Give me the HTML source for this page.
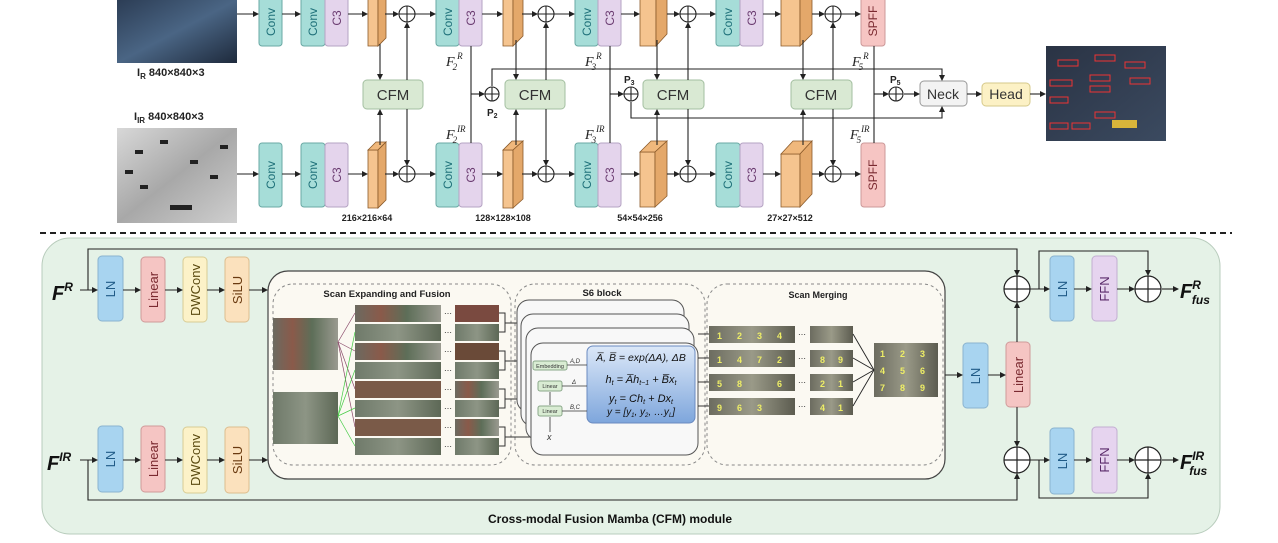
<!DOCTYPE html>
<html><head><meta charset="utf-8"><style>
html,body{margin:0;padding:0;background:#fff}
svg{display:block}
text{font-family:"Liberation Sans",sans-serif}
.m{font-family:"Liberation Serif",serif;font-style:italic}
</style></head><body>
<svg width="1278" height="543" viewBox="0 0 1278 543" xmlns="http://www.w3.org/2000/svg">
<defs>
<marker id="a" markerWidth="6" markerHeight="6" refX="5" refY="3" orient="auto" markerUnits="userSpaceOnUse"><path d="M0,0 L6,3 L0,6z" fill="#222"/></marker>
<linearGradient id="rgb" x1="0" y1="0" x2="1" y2="1"><stop offset="0" stop-color="#2c3d55"/><stop offset=".5" stop-color="#4a6584"/><stop offset="1" stop-color="#1e2a3c"/></linearGradient>
<linearGradient id="ir" x1="0" y1="0" x2="1" y2="1"><stop offset="0" stop-color="#d8d8d8"/><stop offset=".5" stop-color="#a8a8a8"/><stop offset="1" stop-color="#cfcfcf"/></linearGradient>
<linearGradient id="out" x1="0" y1="0" x2="1" y2="1"><stop offset="0" stop-color="#2a3344"/><stop offset="1" stop-color="#3b4a60"/></linearGradient>
<linearGradient id="blu" x1="0" y1="0" x2="0" y2="1"><stop offset="0" stop-color="#dce8f8"/><stop offset="1" stop-color="#7ea6dc"/></linearGradient>
<linearGradient id="ph1" x1="0" y1="0" x2="1" y2="0"><stop offset="0" stop-color="#6b6a60"/><stop offset=".3" stop-color="#8a5a4a"/><stop offset=".6" stop-color="#5d6e58"/><stop offset="1" stop-color="#9a9a90"/></linearGradient>
<linearGradient id="ph2" x1="0" y1="0" x2="1" y2="0"><stop offset="0" stop-color="#6f7a6a"/><stop offset=".5" stop-color="#8d9585"/><stop offset="1" stop-color="#5d6856"/></linearGradient>
<linearGradient id="gr" x1="0" y1="0" x2="1" y2="0"><stop offset="0" stop-color="#6c6c60"/><stop offset=".5" stop-color="#9a9a88"/><stop offset="1" stop-color="#5c5c50"/></linearGradient>
</defs>

<!-- ================= TOP ================= -->
<rect x="117" y="0" width="120" height="63" fill="url(#rgb)"/>
<text x="137" y="76" font-size="11" font-weight="bold" fill="#222">I<tspan font-size="8" dy="3">R</tspan><tspan dy="-3"> 840×840×3</tspan></text>
<text x="134" y="120" font-size="11" font-weight="bold" fill="#222">I<tspan font-size="8" dy="3">IR</tspan><tspan dy="-3"> 840×840×3</tspan></text>
<rect x="117" y="128" width="120" height="95" fill="url(#ir)"/>
<g fill="#222"><rect x="135" y="150" width="8" height="4"/><rect x="160" y="140" width="8" height="4"/><rect x="190" y="160" width="8" height="4"/><rect x="210" y="175" width="8" height="4"/><rect x="140" y="185" width="8" height="4"/><rect x="170" y="205" width="22" height="5"/><rect x="220" y="145" width="8" height="4"/><rect x="125" y="170" width="8" height="4"/></g>

<g id="toprow">
</g>
<!-- boxes both rows -->
<g stroke="#6aa9a4" stroke-width="1">
<rect x="259" y="-4" width="23" height="50" rx="3" fill="#a6ddd8"/>
<rect x="301" y="-4" width="24" height="50" rx="3" fill="#a6ddd8"/>
<rect x="436" y="-4" width="23" height="50" rx="3" fill="#a6ddd8"/>
<rect x="575" y="-4" width="23" height="50" rx="3" fill="#a6ddd8"/>
<rect x="716" y="-4" width="24" height="50" rx="3" fill="#a6ddd8"/>
<rect x="259" y="143" width="23" height="64" rx="3" fill="#a6ddd8"/>
<rect x="301" y="143" width="24" height="64" rx="3" fill="#a6ddd8"/>
<rect x="436" y="143" width="23" height="64" rx="3" fill="#a6ddd8"/>
<rect x="575" y="143" width="23" height="64" rx="3" fill="#a6ddd8"/>
<rect x="716" y="143" width="24" height="64" rx="3" fill="#a6ddd8"/>
</g>
<g stroke="#b5a3c3" stroke-width="1" fill="#e4d4ec">
<rect x="325" y="-4" width="23" height="50" rx="3"/>
<rect x="459" y="-4" width="23" height="50" rx="3"/>
<rect x="598" y="-4" width="23" height="50" rx="3"/>
<rect x="740" y="-4" width="23" height="50" rx="3"/>
<rect x="325" y="143" width="23" height="64" rx="3"/>
<rect x="459" y="143" width="23" height="64" rx="3"/>
<rect x="598" y="143" width="23" height="64" rx="3"/>
<rect x="740" y="143" width="23" height="64" rx="3"/>
</g>
<g stroke="#c99" stroke-width="1" fill="#f6c5c3">
<rect x="861" y="-4" width="24" height="50" rx="3"/>
<rect x="861" y="143" width="24" height="64" rx="3"/>
</g>
<g font-size="12" text-anchor="middle" fill="#1d6f78">
<text transform="translate(275,22) rotate(-90)">Conv</text>
<text transform="translate(317,22) rotate(-90)">Conv</text>
<text transform="translate(452,22) rotate(-90)">Conv</text>
<text transform="translate(591,22) rotate(-90)">Conv</text>
<text transform="translate(732,22) rotate(-90)">Conv</text>
<text transform="translate(275,175) rotate(-90)">Conv</text>
<text transform="translate(317,175) rotate(-90)">Conv</text>
<text transform="translate(452,175) rotate(-90)">Conv</text>
<text transform="translate(591,175) rotate(-90)">Conv</text>
<text transform="translate(732,175) rotate(-90)">Conv</text>
</g>
<g font-size="12" text-anchor="middle" fill="#6a3b70">
<text transform="translate(341,18) rotate(-90)">C3</text>
<text transform="translate(475,18) rotate(-90)">C3</text>
<text transform="translate(614,18) rotate(-90)">C3</text>
<text transform="translate(756,18) rotate(-90)">C3</text>
<text transform="translate(341,175) rotate(-90)">C3</text>
<text transform="translate(475,175) rotate(-90)">C3</text>
<text transform="translate(614,175) rotate(-90)">C3</text>
<text transform="translate(756,175) rotate(-90)">C3</text>
</g>
<g font-size="12" text-anchor="middle" fill="#7a2a30">
<text transform="translate(877,21) rotate(-90)">SPFF</text>
<text transform="translate(877,175) rotate(-90)">SPFF</text>
</g>

<!-- orange blocks -->
<g stroke="#8a5a2a" stroke-width=".8">
<polygon points="368,-4 378,-4 378,46 368,46" fill="#f5c48f"/><polygon points="378,-4 386,-10 386,38 378,46" fill="#e4a86a"/>
<polygon points="368,150 378,150 378,208 368,208" fill="#f5c48f"/><polygon points="368,150 376,142 386,142 378,150" fill="#f0b87c"/><polygon points="378,150 386,142 386,200 378,208" fill="#e4a86a"/>
<polygon points="503,-4 513,-4 513,46 503,46" fill="#f5c48f"/><polygon points="513,-4 523,-12 523,36 513,46" fill="#e4a86a"/>
<polygon points="503,150 513,150 513,208 503,208" fill="#f5c48f"/><polygon points="503,150 512,141 523,141 513,150" fill="#f0b87c"/><polygon points="513,150 523,141 523,199 513,208" fill="#e4a86a"/>
<polygon points="640,-4 656,-4 656,46 640,46" fill="#f5c48f"/><polygon points="656,-4 667,-14 667,34 656,46" fill="#e4a86a"/>
<polygon points="640,152 655,152 655,207 640,207" fill="#f5c48f"/><polygon points="640,152 651,141 667,141 655,152" fill="#f0b87c"/><polygon points="655,152 667,141 667,196 655,207" fill="#e4a86a"/>
<polygon points="781,-4 800,-4 800,46 781,46" fill="#f5c48f"/><polygon points="800,-4 812,-16 812,34 800,46" fill="#e4a86a"/>
<polygon points="781,154 800,154 800,207 781,207" fill="#f5c48f"/><polygon points="781,154 793,141 812,141 800,154" fill="#f0b87c"/><polygon points="800,154 812,141 812,194 800,207" fill="#e4a86a"/>
</g>
<text x="367" y="221" font-size="9" font-weight="bold" text-anchor="middle" fill="#222">216×216×64</text>
<text x="503" y="221" font-size="9" font-weight="bold" text-anchor="middle" fill="#222">128×128×108</text>
<text x="640" y="221" font-size="9" font-weight="bold" text-anchor="middle" fill="#222">54×54×256</text>
<text x="790" y="221" font-size="9" font-weight="bold" text-anchor="middle" fill="#222">27×27×512</text>

<!-- CFM boxes -->
<g stroke="#a3bfa0" fill="#d9e9d3">
<rect x="363" y="80" width="60" height="29" rx="4"/>
<rect x="505" y="80" width="60" height="29" rx="4"/>
<rect x="643" y="80" width="61" height="29" rx="4"/>
<rect x="791" y="80" width="61" height="29" rx="4"/>
</g>
<g font-size="15" text-anchor="middle" fill="#333">
<text x="393" y="100">CFM</text><text x="535" y="100">CFM</text><text x="673" y="100">CFM</text><text x="821" y="100">CFM</text>
</g>
<rect x="920" y="81" width="47" height="25" rx="4" fill="#f3f3f3" stroke="#999"/>
<text x="943" y="99" font-size="14" text-anchor="middle" fill="#333">Neck</text>
<rect x="982" y="83" width="48" height="23" rx="4" fill="#fcf1c5" stroke="#d6c98a"/>
<text x="1006" y="99" font-size="14" text-anchor="middle" fill="#333">Head</text>
<rect x="1046" y="46" width="120" height="95" fill="url(#out)"/>
<g fill="none" stroke="#e33" stroke-width="1"><rect x="1058" y="60" width="20" height="6"/><rect x="1095" y="55" width="20" height="6"/><rect x="1125" y="62" width="20" height="6"/><rect x="1050" y="80" width="22" height="6"/><rect x="1090" y="75" width="20" height="6"/><rect x="1090" y="86" width="20" height="6"/><rect x="1130" y="78" width="20" height="6"/><rect x="1050" y="97" width="18" height="6"/><rect x="1095" y="112" width="20" height="6"/><rect x="1050" y="123" width="18" height="6"/><rect x="1072" y="123" width="18" height="6"/></g>
<rect x="1112" y="120" width="25" height="8" fill="#d9b53a"/>

<!-- top wires -->
<g stroke="#222" stroke-width="1.1" fill="none" marker-end="url(#a)">
<line x1="237" y1="14" x2="258" y2="14"/><line x1="282" y1="14" x2="300" y2="14"/><line x1="348" y1="14" x2="367" y2="14"/><line x1="385" y1="14" x2="398" y2="14"/><line x1="415" y1="14" x2="435" y2="14"/><line x1="482" y1="14" x2="502" y2="14"/><line x1="522" y1="14" x2="537" y2="14"/><line x1="554" y1="14" x2="574" y2="14"/><line x1="621" y1="14" x2="639" y2="14"/><line x1="667" y1="14" x2="679" y2="14"/><line x1="696" y1="14" x2="715" y2="14"/><line x1="763" y1="14" x2="780" y2="14"/><line x1="812" y1="14" x2="824" y2="14"/><line x1="841" y1="14" x2="860" y2="14"/>
<line x1="237" y1="174" x2="258" y2="174"/><line x1="282" y1="174" x2="300" y2="174"/><line x1="348" y1="174" x2="367" y2="174"/><line x1="385" y1="174" x2="398" y2="174"/><line x1="415" y1="174" x2="435" y2="174"/><line x1="482" y1="174" x2="502" y2="174"/><line x1="522" y1="174" x2="537" y2="174"/><line x1="554" y1="174" x2="574" y2="174"/><line x1="621" y1="174" x2="639" y2="174"/><line x1="667" y1="174" x2="679" y2="174"/><line x1="696" y1="174" x2="715" y2="174"/><line x1="763" y1="174" x2="780" y2="174"/><line x1="812" y1="174" x2="824" y2="174"/><line x1="841" y1="174" x2="860" y2="174"/>
<!-- CFM in/out -->
<line x1="380" y1="44" x2="380" y2="79"/><line x1="380" y1="145" x2="380" y2="110"/><line x1="407" y1="80" x2="407" y2="23"/><line x1="407" y1="109" x2="407" y2="165"/>
<line x1="516" y1="40" x2="516" y2="79"/><line x1="516" y1="145" x2="516" y2="110"/><line x1="546" y1="80" x2="546" y2="23"/><line x1="546" y1="109" x2="546" y2="165"/>
<line x1="657" y1="40" x2="657" y2="79"/><line x1="657" y1="145" x2="657" y2="110"/><line x1="688" y1="80" x2="688" y2="23"/><line x1="688" y1="109" x2="688" y2="165"/>
<line x1="803" y1="40" x2="803" y2="79"/><line x1="803" y1="145" x2="803" y2="110"/><line x1="833" y1="80" x2="833" y2="23"/><line x1="833" y1="109" x2="833" y2="165"/>
<line x1="471" y1="94" x2="484" y2="94"/><line x1="610" y1="94" x2="623" y2="94"/><line x1="874" y1="94" x2="888" y2="94"/><line x1="904" y1="94" x2="919" y2="94"/>
<polyline points="492,86 492,69 942,69 942,80"/><polyline points="631,102 631,118 942,118 942,107"/>
<line x1="967" y1="94" x2="981" y2="94"/><line x1="1030" y1="94" x2="1045" y2="94"/>
</g>
<g stroke="#222" stroke-width="1.1" fill="none">
<line x1="471" y1="46" x2="471" y2="143"/><line x1="610" y1="46" x2="610" y2="143"/><line x1="874" y1="46" x2="874" y2="143"/>
</g>
<g stroke="#222" stroke-width="1.1" fill="#fff">
<circle cx="407" cy="14" r="8"/><circle cx="546" cy="14" r="8"/><circle cx="688" cy="14" r="8"/><circle cx="833" cy="14" r="8"/>
<circle cx="407" cy="174" r="8"/><circle cx="546" cy="174" r="8"/><circle cx="688" cy="174" r="8"/><circle cx="833" cy="174" r="8"/>
<circle cx="492" cy="94" r="7"/><circle cx="631" cy="94" r="7"/><circle cx="896" cy="94" r="7"/>
</g>
<g stroke="#222" stroke-width="1.1">
<path d="M399,14h16M407,6v16M538,14h16M546,6v16M680,14h16M688,6v16M825,14h16M833,6v16"/>
<path d="M399,174h16M407,166v16M538,174h16M546,166v16M680,174h16M688,166v16M825,174h16M833,166v16"/>
<path d="M485,94h14M492,87v14M624,94h14M631,87v14M889,94h14M896,87v14"/>
</g>
<g font-size="12" fill="#222">
<text x="446" y="66" class="m" font-size="14">F<tspan font-size="9" dy="4" dx="-2">2</tspan><tspan font-size="9" dy="-11">R</tspan></text>
<text x="585" y="66" class="m" font-size="14">F<tspan font-size="9" dy="4" dx="-2">3</tspan><tspan font-size="9" dy="-11">R</tspan></text>
<text x="852" y="66" class="m" font-size="14">F<tspan font-size="9" dy="4" dx="-2">5</tspan><tspan font-size="9" dy="-11">R</tspan></text>
<text x="446" y="139" class="m" font-size="14">F<tspan font-size="9" dy="4" dx="-2">2</tspan><tspan font-size="9" dy="-11">IR</tspan></text>
<text x="585" y="139" class="m" font-size="14">F<tspan font-size="9" dy="4" dx="-2">3</tspan><tspan font-size="9" dy="-11">IR</tspan></text>
<text x="850" y="139" class="m" font-size="14">F<tspan font-size="9" dy="4" dx="-2">5</tspan><tspan font-size="9" dy="-11">IR</tspan></text>
<text x="487" y="116" font-size="10" font-weight="bold">P<tspan font-size="7" dy="2">2</tspan></text>
<text x="624" y="83" font-size="10" font-weight="bold">P<tspan font-size="7" dy="2">3</tspan></text>
<text x="890" y="83" font-size="10" font-weight="bold">P<tspan font-size="7" dy="2">5</tspan></text>
</g>

<line x1="40" y1="233" x2="1232" y2="233" stroke="#222" stroke-width="2" stroke-dasharray="6,4"/>

<!-- ================= BOTTOM ================= -->
<rect x="42" y="238" width="1178" height="296" rx="28" fill="#e5f2e7" stroke="#b8ccbc"/>
<rect x="268" y="271" width="677" height="208" rx="20" fill="#fbf9f2" stroke="#444" stroke-width="1.2"/>
<g fill="none" stroke="#888" stroke-dasharray="3,3">
<rect x="273" y="284" width="238" height="181" rx="20"/>
<rect x="515" y="284" width="190" height="181" rx="20"/>
<rect x="707" y="284" width="236" height="181" rx="20"/>
</g>
<text x="387" y="297" font-size="9.5" font-weight="bold" text-anchor="middle" fill="#222">Scan Expanding and Fusion</text>
<text x="602" y="296" font-size="9.5" font-weight="bold" text-anchor="middle" fill="#222">S6 block</text>
<text x="818" y="298" font-size="9" font-weight="bold" text-anchor="middle" fill="#222">Scan Merging</text>

<!-- scan expanding images -->
<rect x="273" y="318" width="65" height="52" fill="url(#ph1)"/>
<rect x="273" y="392" width="65" height="52" fill="url(#ph2)"/>
<g>
<rect x="355" y="305" width="86" height="17" fill="url(#ph1)"/><rect x="355" y="324" width="86" height="17" fill="url(#ph2)"/>
<rect x="355" y="343" width="86" height="17" fill="url(#ph1)"/><rect x="355" y="362" width="86" height="17" fill="url(#ph2)"/>
<rect x="355" y="381" width="86" height="17" fill="#7a5a48"/><rect x="355" y="400" width="86" height="17" fill="url(#ph2)"/>
<rect x="355" y="419" width="86" height="17" fill="#7a5a48"/><rect x="355" y="438" width="86" height="17" fill="url(#ph2)"/>
<rect x="455" y="305" width="44" height="17" fill="#7a4a40"/><rect x="455" y="324" width="44" height="17" fill="url(#ph2)"/>
<rect x="455" y="343" width="44" height="17" fill="#6a4a38"/><rect x="455" y="362" width="44" height="17" fill="url(#ph2)"/>
<rect x="455" y="381" width="44" height="17" fill="url(#ph1)"/><rect x="455" y="400" width="44" height="17" fill="url(#ph2)"/>
<rect x="455" y="419" width="44" height="17" fill="url(#ph1)"/><rect x="455" y="438" width="44" height="17" fill="url(#ph2)"/>
</g>
<g font-size="8" fill="#333"><text x="444" y="316">⋯</text><text x="444" y="335">⋯</text><text x="444" y="354">⋯</text><text x="444" y="373">⋯</text><text x="444" y="392">⋯</text><text x="444" y="411">⋯</text><text x="444" y="430">⋯</text><text x="444" y="449">⋯</text></g>
<g stroke="#8a4a6a" stroke-width=".7"><line x1="338" y1="342" x2="355" y2="313"/><line x1="338" y1="342" x2="355" y2="351"/><line x1="338" y1="342" x2="355" y2="389"/><line x1="338" y1="342" x2="355" y2="427"/></g>
<g stroke="#4c4" stroke-width=".7"><line x1="338" y1="416" x2="355" y2="332"/><line x1="338" y1="416" x2="355" y2="370"/><line x1="338" y1="416" x2="355" y2="408"/><line x1="338" y1="416" x2="355" y2="446"/></g>
<g stroke="#333" stroke-width="1" fill="none">
<path d="M499,313h6v19h-6M505,323h12M499,351h6v19h-6M505,361h12M499,389h6v19h-6M505,399h25M499,427h6v19h-6M505,437h30"/>
</g>

<!-- S6 stack -->
<g stroke="#555" stroke-width="1" fill="#f8f8f8">
<rect x="517" y="300" width="167" height="112" rx="12"/>
<rect x="521" y="314" width="168" height="112" rx="12"/>
<rect x="526" y="328" width="168" height="112" rx="12"/>
<rect x="531" y="343" width="167" height="112" rx="12"/>
</g>
<rect x="587" y="346" width="108" height="77" rx="6" fill="url(#blu)" stroke="#6a8ac0"/>
<g font-size="11" class="m" fill="#111" text-anchor="middle">
<text x="641" y="361" font-size="10.5">A̅, B̅ = exp(ΔA), ΔB</text>
<text x="641" y="383">h<tspan font-size="7" dy="2">t</tspan><tspan dy="-2"> = A̅h</tspan><tspan font-size="7" dy="2">t−1</tspan><tspan dy="-2"> + B̅x</tspan><tspan font-size="7" dy="2">t</tspan></text>
<text x="641" y="402">y<tspan font-size="7" dy="2">t</tspan><tspan dy="-2"> = Ch</tspan><tspan font-size="7" dy="2">t</tspan><tspan dy="-2"> + Dx</tspan><tspan font-size="7" dy="2">t</tspan></text>
<text x="641" y="415" font-size="10">y = [y<tspan font-size="6" dy="2">1</tspan><tspan dy="-2">, y</tspan><tspan font-size="6" dy="2">2</tspan><tspan dy="-2">, …y</tspan><tspan font-size="6" dy="2">L</tspan><tspan dy="-2">]</tspan></text>
</g>
<g stroke="#8aa88a" fill="#d9ecd3">
<rect x="533" y="361" width="34" height="9" rx="2"/><rect x="538" y="381" width="24" height="10" rx="2"/><rect x="538" y="406" width="24" height="10" rx="2"/>
</g>
<g font-size="5.5" text-anchor="middle" fill="#333"><text x="550" y="368">Embedding</text><text x="550" y="388">Linear</text><text x="550" y="413">Linear</text></g>
<g stroke="#333" stroke-width=".8" fill="none"><line x1="567" y1="365" x2="587" y2="365"/><line x1="562" y1="386" x2="587" y2="386"/><line x1="562" y1="411" x2="587" y2="411"/><line x1="550" y1="432" x2="550" y2="417"/><line x1="550" y1="405" x2="550" y2="392"/></g>
<g font-size="6" class="m" fill="#333"><text x="570" y="363">A,D</text><text x="572" y="384">Δ</text><text x="570" y="409">B,C</text><text x="547" y="440" font-size="9">x</text></g>

<!-- scan merging -->
<g>
<rect x="709" y="326" width="86" height="17" fill="url(#gr)"/><rect x="709" y="350" width="86" height="17" fill="url(#gr)"/><rect x="709" y="374" width="86" height="17" fill="url(#gr)"/><rect x="709" y="398" width="86" height="17" fill="url(#gr)"/>
<rect x="810" y="326" width="43" height="17" fill="url(#gr)"/><rect x="810" y="350" width="43" height="17" fill="url(#gr)"/><rect x="810" y="374" width="43" height="17" fill="url(#gr)"/><rect x="810" y="398" width="43" height="17" fill="url(#gr)"/>
<rect x="874" y="343" width="64" height="54" fill="url(#gr)"/>
</g>
<g font-size="9" fill="#ee6" font-weight="bold"><text x="717" y="339">1</text><text x="737" y="339">2</text><text x="757" y="339">3</text><text x="777" y="339">4</text><text x="717" y="363">1</text><text x="737" y="363">4</text><text x="757" y="363">7</text><text x="777" y="363">2</text><text x="717" y="387">5</text><text x="737" y="387">8</text><text x="777" y="387">6</text><text x="717" y="411">9</text><text x="737" y="411">6</text><text x="757" y="411">3</text><text x="820" y="363">8</text><text x="838" y="363">9</text><text x="820" y="387">2</text><text x="838" y="387">1</text><text x="820" y="411">4</text><text x="838" y="411">1</text>
<text x="880" y="357">1</text><text x="900" y="357">2</text><text x="920" y="357">3</text><text x="880" y="374">4</text><text x="900" y="374">5</text><text x="920" y="374">6</text><text x="880" y="391">7</text><text x="900" y="391">8</text><text x="920" y="391">9</text></g>
<g stroke="#222" stroke-width=".9"><line x1="853" y1="334" x2="874" y2="370"/><line x1="853" y1="358" x2="874" y2="370"/><line x1="853" y1="382" x2="874" y2="370"/><line x1="853" y1="406" x2="874" y2="370"/>
<line x1="698" y1="334" x2="709" y2="334"/><line x1="698" y1="358" x2="709" y2="358"/><line x1="698" y1="382" x2="709" y2="382"/><line x1="698" y1="406" x2="709" y2="406"/></g>
<g font-size="8" fill="#333"><text x="798" y="337">⋯</text><text x="798" y="361">⋯</text><text x="798" y="385">⋯</text><text x="798" y="409">⋯</text></g>

<!-- bottom boxes -->
<g stroke="#8ab3cf" fill="#a8d4f0">
<rect x="98" y="256" width="25" height="65" rx="4"/><rect x="98" y="426" width="25" height="66" rx="4"/>
<rect x="963" y="343" width="25" height="65" rx="4"/>
<rect x="1050" y="256" width="24" height="65" rx="4"/><rect x="1050" y="428" width="24" height="66" rx="4"/>
</g>
<g stroke="#cf9a9a" fill="#f5c5c3">
<rect x="141" y="257" width="24" height="65" rx="4"/><rect x="141" y="426" width="24" height="66" rx="4"/>
<rect x="1006" y="342" width="24" height="65" rx="4"/>
</g>
<g stroke="#d8cc94" fill="#fcf2c8"><rect x="183" y="257" width="24" height="65" rx="4"/><rect x="183" y="427" width="24" height="66" rx="4"/></g>
<g stroke="#dcbd8e" fill="#fbe1bd"><rect x="225" y="257" width="24" height="65" rx="4"/><rect x="225" y="427" width="24" height="66" rx="4"/></g>
<g stroke="#c2aed2" fill="#e6d4ef"><rect x="1092" y="256" width="25" height="65" rx="4"/><rect x="1092" y="427" width="25" height="66" rx="4"/></g>
<g font-size="13" text-anchor="middle">
<text transform="translate(115,289) rotate(-90)" fill="#1f5a86">LN</text><text transform="translate(115,459) rotate(-90)" fill="#1f5a86">LN</text>
<text transform="translate(158,290) rotate(-90)" fill="#7a2a30">Linear</text><text transform="translate(158,459) rotate(-90)" fill="#7a2a30">Linear</text>
<text transform="translate(200,290) rotate(-90)" fill="#5a4a10">DWConv</text><text transform="translate(200,460) rotate(-90)" fill="#5a4a10">DWConv</text>
<text transform="translate(242,290) rotate(-90)" fill="#6a3a10">SiLU</text><text transform="translate(242,460) rotate(-90)" fill="#6a3a10">SiLU</text>
<text transform="translate(980,376) rotate(-90)" fill="#1f5a86">LN</text>
<text transform="translate(1023,375) rotate(-90)" fill="#7a2a30">Linear</text>
<text transform="translate(1067,289) rotate(-90)" fill="#1f5a86">LN</text><text transform="translate(1067,461) rotate(-90)" fill="#1f5a86">LN</text>
<text transform="translate(1109,289) rotate(-90)" fill="#5a2a6a">FFN</text><text transform="translate(1109,460) rotate(-90)" fill="#5a2a6a">FFN</text>
</g>

<g stroke="#222" stroke-width="1.1" fill="none" marker-end="url(#a)">
<line x1="80" y1="290" x2="97" y2="290"/><line x1="123" y1="290" x2="140" y2="290"/><line x1="165" y1="290" x2="182" y2="290"/><line x1="207" y1="290" x2="224" y2="290"/><line x1="249" y1="290" x2="267" y2="290"/>
<line x1="80" y1="460" x2="97" y2="460"/><line x1="123" y1="460" x2="140" y2="460"/><line x1="165" y1="460" x2="182" y2="460"/><line x1="207" y1="460" x2="224" y2="460"/><line x1="249" y1="460" x2="267" y2="460"/>
<line x1="945" y1="375" x2="962" y2="375"/><line x1="988" y1="375" x2="1005" y2="375"/>
<polyline points="88,290 88,249 1017,249 1017,275"/><polyline points="88,460 88,500 1017,500 1017,474"/>
<line x1="1017" y1="342" x2="1017" y2="303"/><line x1="1017" y1="407" x2="1017" y2="446"/>
<line x1="1030" y1="289" x2="1049" y2="289"/><line x1="1074" y1="289" x2="1091" y2="289"/><line x1="1117" y1="289" x2="1134" y2="289"/><line x1="1162" y1="289" x2="1178" y2="289"/>
<line x1="1030" y1="460" x2="1049" y2="460"/><line x1="1074" y1="460" x2="1091" y2="460"/><line x1="1117" y1="460" x2="1134" y2="460"/><line x1="1162" y1="460" x2="1178" y2="460"/>
<polyline points="1039,289 1039,251 1148,251 1148,275"/><polyline points="1039,460 1039,498 1148,498 1148,474"/>
</g>
<g stroke="#222" stroke-width="1.2" fill="#fff">
<circle cx="1017" cy="289" r="13"/><circle cx="1017" cy="460" r="13"/><circle cx="1148" cy="289" r="13"/><circle cx="1148" cy="460" r="13"/>
</g>
<g stroke="#222" stroke-width="1.2"><path d="M1004,289h26M1017,276v26M1004,460h26M1017,447v26M1135,289h26M1148,276v26M1135,460h26M1148,447v26"/></g>

<g class="m" font-weight="bold" fill="#111">
<text x="52" y="300" font-size="20">F<tspan font-size="12" dy="-9">R</tspan></text>
<text x="47" y="470" font-size="20">F<tspan font-size="12" dy="-9">IR</tspan></text>
<text x="1180" y="298" font-size="20">F<tspan font-size="12" dy="-9">R</tspan><tspan font-size="12" dx="-9" dy="15">fus</tspan></text>
<text x="1180" y="469" font-size="20">F<tspan font-size="12" dy="-9">IR</tspan><tspan font-size="12" dx="-15" dy="15">fus</tspan></text>
</g>
<text x="610" y="523" font-size="12" font-weight="bold" text-anchor="middle" fill="#111">Cross-modal Fusion Mamba (CFM) module</text>
</svg>
</body></html>
